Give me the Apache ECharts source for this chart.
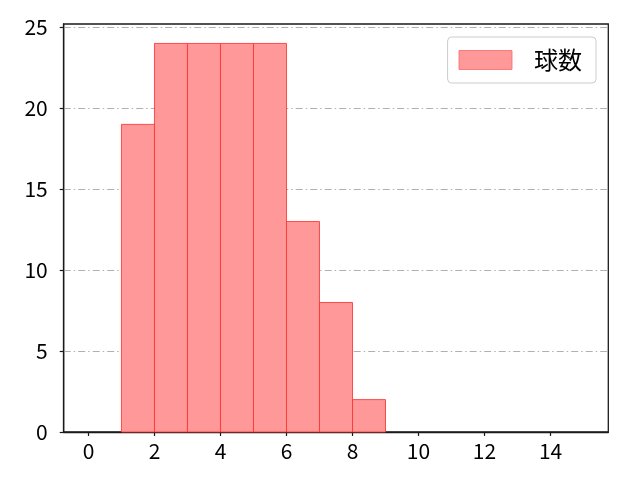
<!DOCTYPE html>
<html><head><meta charset="utf-8">
<script src="https://cdn.jsdelivr.net/npm/echarts@6/dist/echarts.min.js"></script>
<style>html,body{margin:0;padding:0;background:#fff}#c{width:640px;height:480px}</style>
</head><body><div id="c"></div>
<script>
const binStarts = [1, 2, 3, 4, 5, 6, 7, 8];
const binEnds = [2, 3, 4, 5, 6, 7, 8, 9];
const counts = [19, 24, 24, 24, 24, 13, 8, 2];
const xTicks = [0, 2, 4, 6, 8, 10, 12, 14];
const yTicks = [0, 5, 10, 15, 20, 25];
const seriesName = '球数';

const font = '"Noto Sans CJK JP", "DejaVu Sans", sans-serif';
const data = binStarts.map((s, i) => [s, binEnds[i], counts[i]]);
const chart = echarts.init(document.getElementById('c'), null, {renderer: 'canvas'});
chart.setOption({
  animation: false,
  backgroundColor: '#fff',
  grid: {left: 63.7, right: 31.7, top: 24, bottom: 48, show: true, borderColor: '#1a1a1a', borderWidth: 1.3, backgroundColor: 'transparent'},
  legend: {
    show: true, right: 44, top: 37,
    data: [{name: seriesName, icon: 'rect', itemStyle: {color: '#ff9999', borderColor: '#ff6666', borderWidth: 0.8}}],
    itemWidth: 53, itemHeight: 19, itemGap: 0,
    padding: [11, 14, 11, 11],
    borderColor: '#cccccc', borderWidth: 1, borderRadius: 4,
    textStyle: {fontFamily: font, fontSize: 24, lineHeight: 24, color: '#000', padding: [0, 0, 0, 17]}
  },
  xAxis: {
    type: 'value', min: -0.75, max: 15.75,
    axisLine: {show: true, onZero: false, lineStyle: {color: '#1a1a1a', width: 1.3}},
    axisTick: {show: true, length: 4, customValues: xTicks, lineStyle: {color: '#1a1a1a', width: 1.2}},
    axisLabel: {customValues: xTicks, fontFamily: font, fontSize: 21, color: '#000', margin: 9},
    splitLine: {show: false}
  },
  yAxis: {
    type: 'value', min: 0, max: 25.2,
    axisLine: {show: true, onZero: false, lineStyle: {color: '#1a1a1a', width: 1.3}},
    axisTick: {show: true, length: 4, customValues: yTicks, lineStyle: {color: '#1a1a1a', width: 1.2}},
    axisLabel: {customValues: yTicks, fontFamily: font, fontSize: 21, color: '#000', margin: 16},
    splitLine: {show: true, lineStyle: {color: '#b0b0b0', width: 1, type: [7, 3, 1.5, 3]}}
  },
  series: [{
    name: seriesName,
    type: 'custom',
    itemStyle: {color: '#ff9999', borderColor: '#ff6666', borderWidth: 0.8},
    renderItem: function (params, api) {
      const p0 = api.coord([api.value(0), api.value(2)]);
      const p1 = api.coord([api.value(1), 0]);
      return {
        type: 'rect',
        shape: {x: p0[0], y: p0[1], width: p1[0] - p0[0], height: p1[1] - p0[1]},
        style: {fill: '#ff9999', stroke: 'rgba(255,50,50,0.85)', lineWidth: 1}
      };
    },
    encode: {x: [0, 1], y: 2},
    data: data
  }]
});
</script></body></html>
